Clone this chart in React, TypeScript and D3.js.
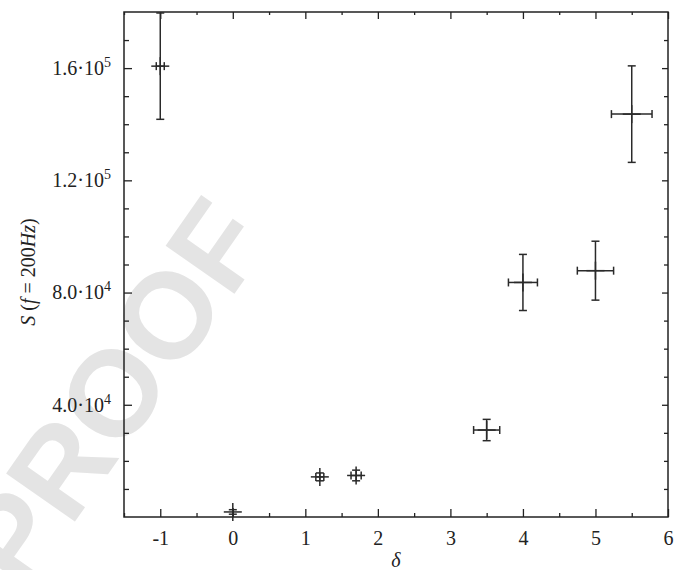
import React from 'react';
import { scaleLinear, select, axisBottom, axisLeft, axisTop, axisRight, range } from 'd3';

// measured points: delta, S and their errors
const deltas = [-1, 0, 1.2, 1.7, 3.5, 4, 5, 5.5];
const sValues = [160700, 1800, 14300, 14800, 31000, 83600, 87800, 143600];
const deltaErr = [0.055, 0, 0.055, 0.07, 0.18, 0.2, 0.25, 0.28];
const sErr = [18950, 800, 1400, 1900, 3800, 10000, 10500, 17200];

const xTicks = [-1, 0, 1, 2, 3, 4, 5, 6];
const yTicks = [40000, 80000, 120000, 160000];

const W = 676, H = 570;
const margin = { top: 12, right: 8, bottom: 53, left: 124 };
const serif = '"Liberation Serif", "DejaVu Serif", serif';
const ink = '#222';

export default class App extends React.Component {
  node: SVGSVGElement | null = null;

  componentDidMount() {
    this.createChart();
  }

  componentDidUpdate() {
    this.createChart();
  }

  createChart() {
    const svg = select(this.node);
    svg.selectAll('*').remove();

    const x = scaleLinear().domain([-1.5, 6]).range([margin.left, W - margin.right]);
    const y = scaleLinear().domain([0, 180000]).range([H - margin.bottom, margin.top]);

    const xMinor = range(-1.5, 6.01, 0.5).filter(v => !Number.isInteger(v));
    const yMinor = range(10000, 180000, 10000).filter(v => v % 40000 !== 0);

    // watermark
    svg.append('text')
      .attr('transform', 'translate(112,392) rotate(-55)')
      .attr('text-anchor', 'middle')
      .attr('dy', '0.36em')
      .attr('font-family', '"Liberation Sans", Arial, sans-serif')
      .attr('font-weight', 'bold')
      .attr('font-size', 122)
      .attr('fill', '#e4e4e4')
      .text('PROOF');

    const styleAxis = (g) => {
      g.select('.domain').remove();
      g.selectAll('line').attr('stroke', ink).attr('stroke-width', 1.3);
      g.selectAll('text').attr('font-family', serif).attr('font-size', 20).attr('fill', ink);
    };

    // bottom
    svg.append('g')
      .attr('transform', `translate(0,${H - margin.bottom})`)
      .call(axisBottom(x).tickValues(xTicks).tickSize(-8).tickPadding(14).tickFormat(d => String(d)))
      .call(styleAxis);
    svg.append('g')
      .attr('transform', `translate(0,${H - margin.bottom})`)
      .call(axisBottom(x).tickValues(xMinor).tickSize(-4).tickFormat(''))
      .call(styleAxis);
    // top
    svg.append('g')
      .attr('transform', `translate(0,${margin.top})`)
      .call(axisTop(x).tickValues(xTicks).tickSize(-7).tickFormat(''))
      .call(styleAxis);
    svg.append('g')
      .attr('transform', `translate(0,${margin.top})`)
      .call(axisTop(x).tickValues(xMinor).tickSize(-3).tickFormat(''))
      .call(styleAxis);

    // left
    svg.append('g')
      .attr('transform', `translate(${margin.left},0)`)
      .call(axisLeft(y).tickValues(yTicks).tickSize(-8).tickPadding(13).tickFormat(''))
      .call(styleAxis)
      .selectAll('.tick text')
      .each(function (d) {
        const e = Math.floor(Math.log10(d));
        const m = (d / Math.pow(10, e)).toFixed(1);
        const t = select(this);
        t.append('tspan').text(`${m}·10`);
        t.append('tspan').attr('dy', -8).attr('font-size', 14).text(String(e));
      });
    svg.append('g')
      .attr('transform', `translate(${margin.left},0)`)
      .call(axisLeft(y).tickValues(yMinor).tickSize(-5).tickFormat(''))
      .call(styleAxis);
    // right
    svg.append('g')
      .attr('transform', `translate(${W - margin.right},0)`)
      .call(axisRight(y).tickValues(yTicks).tickSize(-6).tickFormat(''))
      .call(styleAxis);
    svg.append('g')
      .attr('transform', `translate(${W - margin.right},0)`)
      .call(axisRight(y).tickValues(yMinor).tickSize(-4).tickFormat(''))
      .call(styleAxis);

    // frame
    svg.append('rect')
      .attr('x', margin.left)
      .attr('y', margin.top)
      .attr('width', W - margin.left - margin.right)
      .attr('height', H - margin.top - margin.bottom)
      .attr('fill', 'none')
      .attr('stroke', ink)
      .attr('stroke-width', 1.5);

    // error bars
    const cap = 4, mark = 9;
    const pts = deltas.map((d, i) => ({ d, s: sValues[i], ex: deltaErr[i], ey: sErr[i] }));
    const g = svg.append('g').attr('stroke', '#2a2a2a').attr('stroke-width', 1.5).attr('fill', 'none');
    pts.forEach(p => {
      const cx = x(p.d), cy = y(p.s);
      const x0 = x(p.d - p.ex), x1 = x(p.d + p.ex);
      const y0 = y(p.s - p.ey), y1 = y(p.s + p.ey);
      const segs = [
        [cx, y0, cx, y1],
        [cx - cap, y0, cx + cap, y0],
        [cx - cap, y1, cx + cap, y1],
        [x0, cy, x1, cy],
        [x0, cy - cap, x0, cy + cap],
        [x1, cy - cap, x1, cy + cap],
        [cx - mark, cy, cx + mark, cy],
        [cx, cy - mark, cx, cy + mark],
      ];
      segs.forEach(s => {
        g.append('line').attr('x1', s[0]).attr('y1', s[1]).attr('x2', s[2]).attr('y2', s[3]);
      });
    });

    // axis titles
    svg.append('text')
      .attr('x', (margin.left + W - margin.right) / 2)
      .attr('y', 567)
      .attr('text-anchor', 'middle')
      .attr('font-family', serif)
      .attr('font-style', 'italic')
      .attr('font-size', 20)
      .attr('fill', ink)
      .text('δ');

    const yl = svg.append('text')
      .attr('transform', 'translate(35,272) rotate(-90)')
      .attr('text-anchor', 'middle')
      .attr('font-family', serif)
      .attr('font-size', 20)
      .attr('fill', ink);
    yl.append('tspan').attr('font-style', 'italic').text('S');
    yl.append('tspan').text(' (');
    yl.append('tspan').attr('font-style', 'italic').text('f');
    yl.append('tspan').text(' = 200');
    yl.append('tspan').attr('font-style', 'italic').text('Hz');
    yl.append('tspan').text(')');
  }

  render() {
    return (
      <svg
        ref={node => { this.node = node; }}
        width={W}
        height={H}
        style={{ position: 'absolute', left: 0, top: 0, background: '#fff' }}
      ></svg>
    );
  }
}
